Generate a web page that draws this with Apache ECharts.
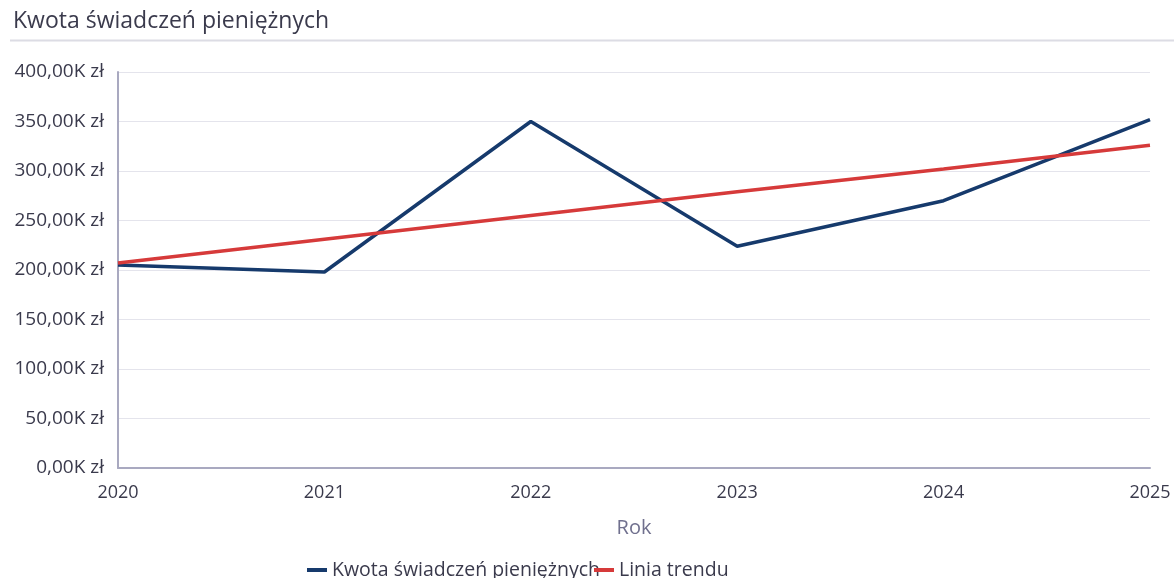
<!DOCTYPE html>
<html>
<head>
	<meta charset="utf-8">
	<title>Kwota świadczeń pieniężnych</title>
	<style type="text/css">
		body{
			margin: 0px;
			background: #fff;
		}
		.chart{
			width: 1174px;
			height: 578px;
		}
	</style>
	<script type="text/javascript" src="https://cdn.jsdelivr.net/npm/echarts@6/dist/echarts.min.js"></script>
</head>
<body>
	<div id="chart" class="chart"></div>
	<script type="text/javascript">
		var years = ['2020', '2021', '2022', '2023', '2024', '2025'];
		var amounts = [205000, 198000, 350000, 224000, 270000, 352000];
		var trend = [207000, 231000, 255000, 279000, 302000, 326000];
		var seriesNames = ['Kwota świadczeń pieniężnych', 'Linia trendu'];

		var font = '"Open Sans", "Noto Sans", sans-serif';
		var chart = echarts.init(document.getElementById('chart'));
		chart.setOption({
			backgroundColor: '#ffffff',
			color: ['#163a6c', '#d63a3a'],
			title: {
				text: 'Kwota świadczeń pieniężnych',
				left: 8,
				top: 5,
				textStyle: {
					fontFamily: font,
					fontSize: 23,
					fontWeight: 'normal',
					color: '#3a3a4c'
				}
			},
			graphic: [{
				type: 'line',
				shape: {x1: 10, y1: 40.5, x2: 1174, y2: 40.5},
				style: {stroke: '#dcdce4', lineWidth: 2}
			}],
			legend: {
				data: seriesNames,
				left: 302,
				top: 555,
				itemGap: -6,
				itemWidth: 20,
				itemHeight: 4,
				icon: 'rect',
				textStyle: {
					fontFamily: font,
					fontSize: 19.5,
					color: '#3a3a4c'
				}
			},
			grid: {
				left: 118,
				right: 24,
				top: 72,
				bottom: 110
			},
			xAxis: {
				type: 'category',
				boundaryGap: false,
				data: years,
				name: 'Rok',
				nameLocation: 'middle',
				nameGap: 50,
				nameTextStyle: {
					fontFamily: font,
					fontSize: 20,
					color: '#70708e'
				},
				axisLine: {
					lineStyle: {color: '#a9a9c0', width: 2}
				},
				axisTick: {show: false},
				splitLine: {show: false},
				axisLabel: {
					fontFamily: font,
					fontSize: 18,
					color: '#3a3a4c',
					margin: 16,
					showMinLabel: true,
					showMaxLabel: true
				}
			},
			yAxis: {
				type: 'value',
				min: 0,
				max: 400000,
				interval: 50000,
				axisLine: {
					show: true,
					lineStyle: {color: '#a9a9c0', width: 2}
				},
				axisTick: {show: false},
				splitLine: {
					lineStyle: {color: '#e4e4ec', width: 1}
				},
				axisLabel: {
					fontFamily: font,
					fontSize: 19,
					color: '#3a3a4c',
					margin: 14,
					formatter: function(v){
						return (v / 1000).toFixed(2).replace('.', ',') + 'K zł';
					}
				}
			},
			series: [{
				name: seriesNames[0],
				type: 'line',
				data: amounts,
				symbol: 'none',
				lineStyle: {width: 3.5}
			}, {
				name: seriesNames[1],
				type: 'line',
				data: trend,
				symbol: 'none',
				lineStyle: {width: 3.5}
			}]
		});
	</script>
</body>
</html>
